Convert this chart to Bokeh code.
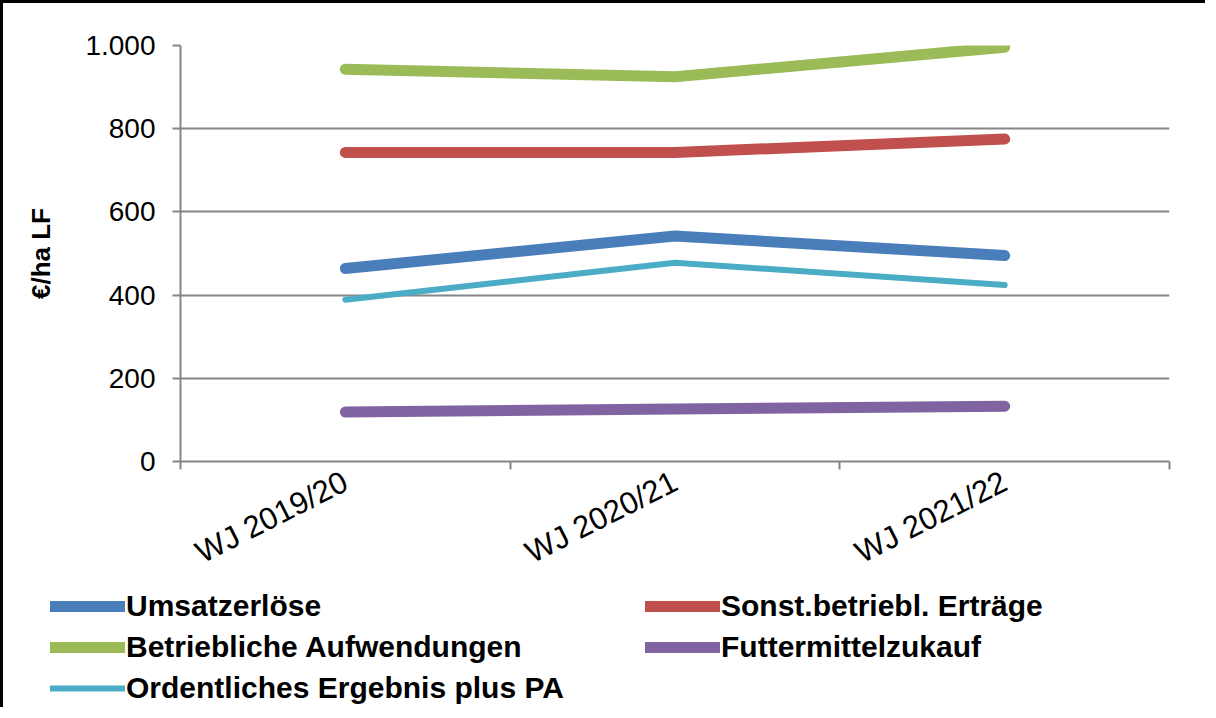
from bokeh.plotting import figure
from bokeh.models import Range1d, FixedTicker, Legend, LegendItem
from bokeh.layouts import column
from bokeh.embed import file_html
from bokeh.resources import INLINE

categories = ["WJ 2019/20", "WJ 2020/21", "WJ 2021/22"]
umsatzerloese = [464, 542, 495]
sonst_ertraege = [743, 743, 775]
betr_aufwendungen = [943, 925, 996]
futtermittelzukauf = [119, 126, 133]
ordentliches_ergebnis = [389, 478, 424]
y_ticks = [0, 200, 400, 600, 800, 1000]
y_tick_labels = ["0", "200", "400", "600", "800", "1.000"]

series = [
    ("Umsatzerlöse", umsatzerloese, "#4A7EBB", 11),
    ("Sonst.betriebl. Erträge", sonst_ertraege, "#C0504D", 11),
    ("Betriebliche Aufwendungen", betr_aufwendungen, "#9BBB59", 11),
    ("Futtermittelzukauf", futtermittelzukauf, "#8064A2", 11),
    ("Ordentliches Ergebnis plus PA", ordentliches_ergebnis, "#4BACC6", 6),
]

FONT = "Liberation Sans"
GRID = "#868686"
W = 1205

p = figure(width=W, height=587, output_backend="svg", toolbar_location=None,
           x_range=Range1d(0, len(categories)), y_range=Range1d(0, 1000),
           min_border_left=177, min_border_right=39, min_border_top=42, min_border_bottom=129)
p.frame_align = False
p.styles = {"border-left": "3px solid black", "border-top": "3px solid black"}
p.outline_line_color = None
p.background_fill_color = "white"
p.border_fill_color = "white"

xs = [i + 0.5 for i in range(len(categories))]
for name, vals, color, w in series:
    p.line(xs, vals, line_color=color, line_width=w, line_cap="round", line_join="round")

# y axis
p.yaxis.ticker = FixedTicker(ticks=y_ticks)
p.yaxis.major_label_overrides = {t: l for t, l in zip(y_ticks, y_tick_labels)}
p.yaxis.major_label_text_font = FONT
p.yaxis.major_label_text_font_size = "28px"
p.yaxis.major_label_text_color = "black"
p.yaxis.axis_line_color = GRID
p.yaxis.axis_line_width = 2
p.yaxis.major_tick_line_color = GRID
p.yaxis.major_tick_line_width = 2
p.yaxis.major_tick_out = 8
p.yaxis.major_tick_in = 0
p.yaxis.minor_tick_line_color = None
p.yaxis.major_label_standoff = 17
p.yaxis.axis_label = "€/ha LF"
p.yaxis.axis_label_text_font = FONT
p.yaxis.axis_label_text_font_style = "bold"
p.yaxis.axis_label_text_font_size = "26px"
p.yaxis.axis_label_text_color = "black"
p.yaxis.axis_label_standoff = 26

# x axis
p.xaxis.ticker = FixedTicker(ticks=xs, minor_ticks=list(range(len(categories) + 1)))
p.xaxis.major_label_overrides = {x: c for x, c in zip(xs, categories)}
p.xaxis.major_label_orientation = 0.47
p.xaxis.major_label_text_font = FONT
p.xaxis.major_label_text_font_size = "31px"
p.xaxis.major_label_text_color = "black"
p.xaxis.major_tick_line_color = None
p.xaxis.minor_tick_line_color = GRID
p.xaxis.minor_tick_line_width = 2
p.xaxis.minor_tick_out = 8
p.xaxis.minor_tick_in = 0
p.xaxis.axis_line_color = GRID
p.xaxis.axis_line_width = 2
p.xaxis.major_label_standoff = 10

p.xgrid.grid_line_color = None
p.ygrid.ticker = FixedTicker(ticks=y_ticks)
p.ygrid.grid_line_color = GRID
p.ygrid.grid_line_width = 2

# legend panel (separate figure; its lines lie outside its visible range)
LH = 120
lf = figure(width=W, height=LH, output_backend="svg", toolbar_location=None,
            x_range=Range1d(100, 101), y_range=Range1d(0, 1),
            x_axis_type=None, y_axis_type=None,
            min_border_left=0, min_border_right=0, min_border_top=0, min_border_bottom=0)
lf.frame_align = False
lf.styles = {"border-left": "3px solid black"}
lf.outline_line_color = None
lf.grid.grid_line_color = None
lr = {}
for name, vals, color, w in series:
    lr[name] = lf.line(xs, vals, line_color=color, line_width=w, line_cap="round", line_join="round")

def make_legend(names, loc):
    lg = Legend(items=[LegendItem(label=n, renderers=[lr[n]]) for n in names],
                location=loc, orientation="vertical")
    lg.label_text_font = FONT
    lg.label_text_font_style = "bold"
    lg.label_text_font_size = "30px"
    lg.label_text_color = "black"
    lg.glyph_width = 75
    lg.glyph_height = 38
    lg.label_height = 38
    lg.label_standoff = 1
    lg.spacing = 3
    lg.padding = 0
    lg.margin = 0
    lg.border_line_color = None
    lg.background_fill_alpha = 0
    return lg

names = [s[0] for s in series]
lf.add_layout(make_legend([names[0], names[2], names[4]], (47, 0)), "center")
lf.add_layout(make_legend([names[1], names[3]], (642, 41)), "center")

layout = column(p, lf, spacing=0)
open("out.html", "w").write(file_html(layout, INLINE))
